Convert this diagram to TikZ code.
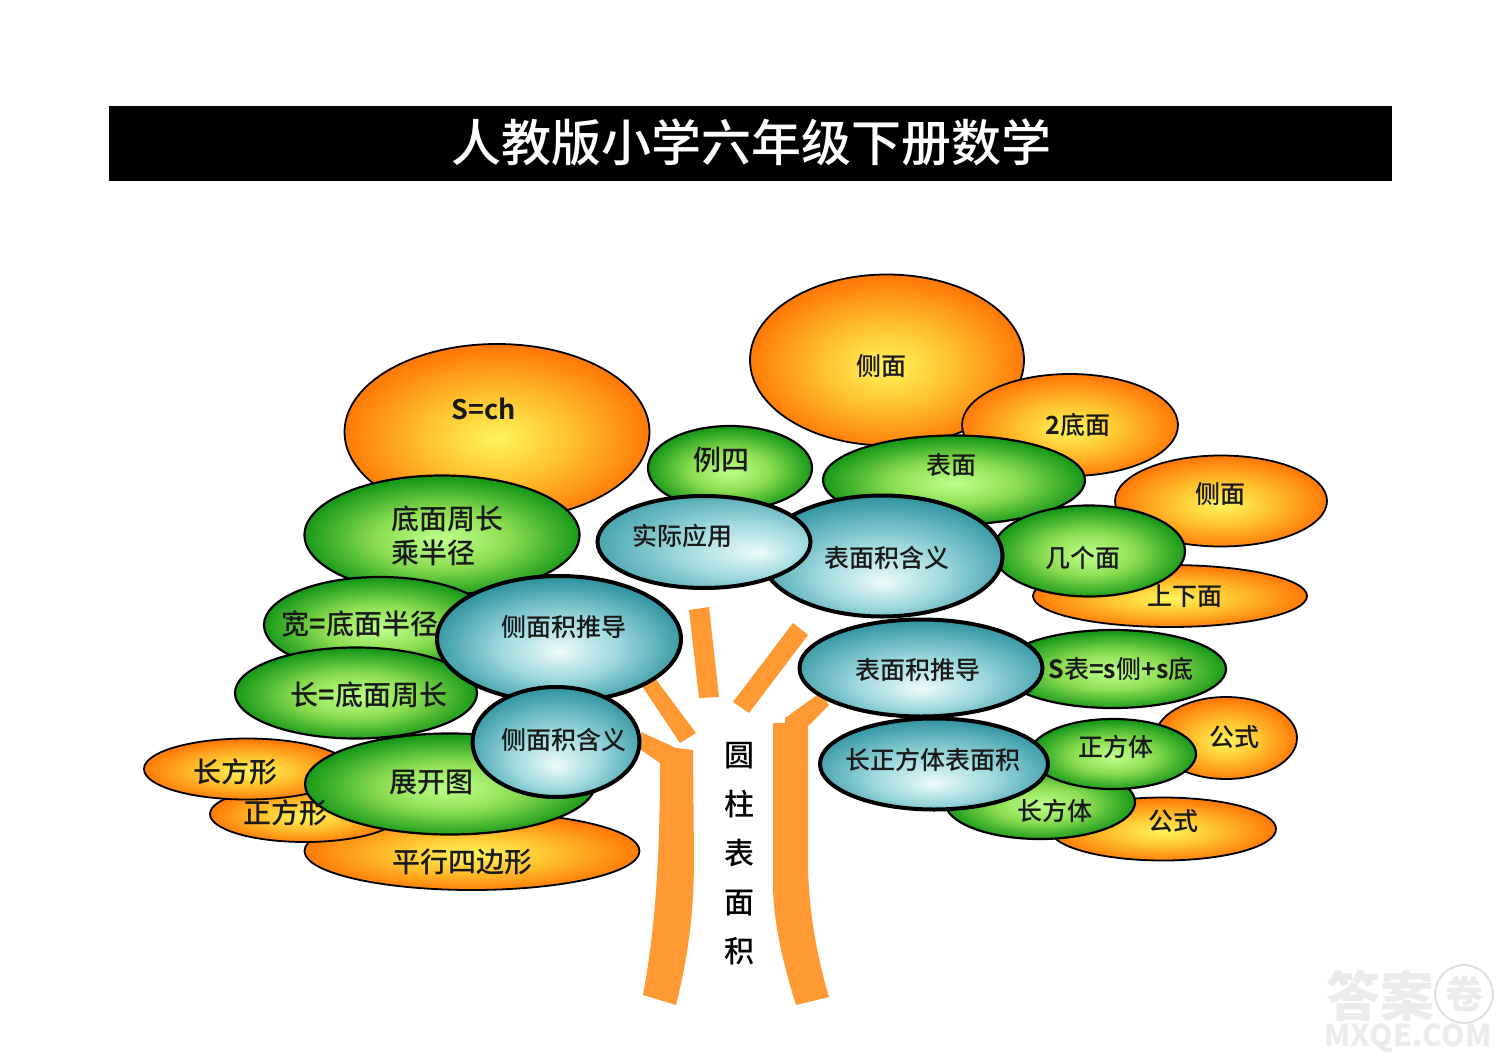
\documentclass[tikz,border=0pt]{standalone}
\usepackage{fontspec}
\usetikzlibrary{shapes.geometric}
\setmainfont{Noto Sans CJK SC}
\newfontfamily\lblfont[BoldFont={Noto Sans CJK SC Bold}]{Noto Sans CJK SC Medium}
\pgfdeclareradialshading{orangeball}{\pgfpoint{0bp}{-2bp}}{rgb(0bp)=(1,0.96,0.36);rgb(12bp)=(1,0.76,0.18);rgb(25bp)=(1,0.48,0.03);rgb(50bp)=(1,0.48,0.03)}
\pgfdeclareradialshading{greenball}{\pgfpoint{0bp}{-2bp}}{rgb(0bp)=(0.75,1,0.55);rgb(12bp)=(0.55,0.87,0.32);rgb(25bp)=(0.1,0.6,0.1);rgb(50bp)=(0.1,0.6,0.1)}
\pgfdeclareradialshading{tealball}{\pgfpoint{0bp}{-11bp}}{rgb(0bp)=(0.93,0.98,0.98);rgb(13bp)=(0.62,0.85,0.87);rgb(30bp)=(0.17,0.57,0.62);rgb(50bp)=(0.17,0.57,0.62)}
\pgfdeclareradialshading{tealright}{\pgfpoint{13bp}{-6bp}}{rgb(0bp)=(0.93,0.98,0.98);rgb(15bp)=(0.62,0.85,0.87);rgb(36bp)=(0.17,0.57,0.62);rgb(50bp)=(0.17,0.57,0.62)}
\pgfdeclareradialshading{tealmid}{\pgfpoint{0bp}{-5bp}}{rgb(0bp)=(0.93,0.98,0.98);rgb(12bp)=(0.62,0.85,0.87);rgb(27bp)=(0.17,0.57,0.62);rgb(50bp)=(0.17,0.57,0.62)}
\definecolor{trunk}{HTML}{FF9933}
\tikzset{
  blob/.style={ellipse,draw=black,inner sep=0pt,outer sep=0pt},
  orangeE/.style={blob,shading=orangeball,line width=0.9pt},
  greenE/.style={blob,shading=greenball,line width=1.1pt},
  tealE/.style={blob,shading=tealball,line width=2pt},
  tealR/.style={blob,shading=tealright,line width=2pt},
  tealM/.style={blob,shading=tealmid,line width=2pt},
  lab/.style={inner sep=0pt,font=\lblfont\fontsize{12.5}{15}\selectfont,text=black!90},
  labbig/.style={lab,font=\lblfont\fontsize{14}{17}\selectfont},
  branch/.style={fill=trunk,draw=none}
}
\newcommand{\El}[6]{\node[#2,minimum width=#5*0.5pt,minimum height=#6*0.5pt] (#1) at (#3,#4) {};}
\begin{document}
\begin{tikzpicture}[x=0.5pt,y=-0.5pt]
\useasboundingbox (0,0) rectangle (1500,1060);
\fill[white] (0,0) rectangle (1500,1060);
% title bar
\node[fill=black,minimum width=641.5pt,minimum height=37.5pt,inner sep=0pt,outer sep=0pt] (titlebar) at (750.5,143.5) {};
\node[inner sep=0pt,text=white,font=\lblfont\fontsize{25}{28}\selectfont] (title) at (751,142) {人教版小学六年级下册数学};
% trunk
\fill[branch] (643,995) .. controls (655,930) and (660,860) .. (660,763) -- (641,750) -- (641,732) -- (676,748) -- (693,750) -- (694,860) .. controls (694,920) and (686,965) .. (676,1005) -- cycle;
\fill[branch] (649,670) -- (638,680) -- (680,743) -- (696,733) -- cycle;
\fill[branch] (689,610) -- (709,607) -- (719,697) -- (699,698) -- cycle;
\fill[branch] (793,623) -- (808,635) -- (749,713) -- (733,702) -- cycle;
\fill[branch] (773,723) -- (785,723) -- (785,718) -- (820,693) -- (829,705) -- (808,726) -- (808,867) .. controls (809,915) and (818,960) .. (829,997) -- (796,1005) .. controls (782,960) and (773,920) .. (773,883) -- cycle;
\node[inner sep=0pt,align=center,font=\lblfont\fontsize{15}{24.5}\selectfont] (trunktext) at (739,854) {圆\\柱\\表\\面\\积};
% orange back
\El{o1}{orangeE}{497}{432}{305}{176}
\El{o2}{orangeE}{887}{360}{274}{171}
\El{o3}{orangeE}{1070}{425}{216}{102}
\El{o4}{orangeE}{1221}{501}{212}{91}
\El{o5}{orangeE}{1170}{596}{274}{62}
\El{o6}{orangeE}{472}{851}{335}{78}
\El{o7}{orangeE}{305}{814}{190}{56}
\El{o8}{orangeE}{247}{769}{206}{61}
\El{o9}{orangeE}{1226}{738}{142}{82}
\El{o10}{orangeE}{1163}{829}{226}{63}
% green
\El{g1}{greenE}{730}{468}{164}{84}
\El{g2}{greenE}{954}{480}{262}{89}
\El{g3}{greenE}{1089}{551}{192}{91}
\El{g4}{greenE}{442}{535}{275}{119}
\El{g5}{greenE}{380}{625}{232}{96}
\El{g6}{greenE}{450}{784}{290}{101}
\El{g7}{greenE}{356}{693}{242}{91}
\El{g8}{greenE}{1113}{669}{226}{78}
\El{g9}{greenE}{1040}{802}{190}{74}
\El{g10}{greenE}{1113}{754}{166}{70}
% teal
\El{t1}{tealE}{882}{556}{241}{121}
\El{t2}{tealR}{704}{542}{213}{92}
\El{t3}{tealM}{559}{639}{244}{126}
\El{t4}{tealE}{556}{742}{167}{110}
\El{t5}{tealE}{921}{668}{243}{97}
\El{t6}{tealE}{934}{764}{228}{91}
% labels
\node[lab] (l1) at (881,366) {侧面};
\node[lab] (l2) at (1078,425) {\textbf{2}底面};
\node[lab] (l3) at (1220,494) {侧面};
\node[lab] (l4) at (1185,596) {上下面};
\node[lab] (l5) at (951,465) {表面};
\node[lab] (l6) at (1083,558) {几个面};
\node[labbig] (l7) at (721,460) {例四};
\node[lab,font=\lblfont\fontsize{13.5}{16}\selectfont\bfseries] (l8) at (484,409) {S=ch};
\node[labbig,align=left] (l9) at (447,536) {底面周长\\乘半径};
\node[labbig] (l10) at (360,624) {宽\textbf{=}底面半径};
\node[labbig] (l11) at (369,695) {长\textbf{=}底面周长};
\node[labbig] (l12) at (235,772) {长方形};
\node[labbig] (l13) at (285,813) {正方形};
\node[labbig] (l14) at (431,782) {展开图};
\node[labbig] (l15) at (462,862) {平行四边形};
\node[lab] (l16) at (682,536) {实际应用};
\node[lab] (l17) at (887,558) {表面积含义};
\node[lab] (l18) at (564,627) {侧面积推导};
\node[lab] (l19) at (564,740) {侧面积含义};
\node[lab] (l20) at (918,670) {表面积推导};
\node[lab] (l21) at (1121,669) {\textbf{S}表\textbf{=s}侧\textbf{+s}底};
\node[lab] (l22) at (933,760) {长正方体表面积};
\node[lab] (l23) at (1116,747) {正方体};
\node[lab] (l24) at (1234,737) {公式};
\node[lab] (l25) at (1055,811) {长方体};
\node[lab] (l26) at (1173,821) {公式};
% watermark
\node[inner sep=0pt,text=black!8,font=\fontsize{27}{30}\selectfont\bfseries] (w1) at (1380,996) {答案};
\node[circle,draw=black!12,line width=1pt,inner sep=1pt,text=black!8,font=\fontsize{19}{22}\selectfont\bfseries] (w2) at (1464,994) {卷};
\node[inner sep=0pt,text=black!8,font=\fontsize{15}{20}\selectfont\bfseries] (w3) at (1408,1038) {MXQE.COM};
\end{tikzpicture}
\end{document}
